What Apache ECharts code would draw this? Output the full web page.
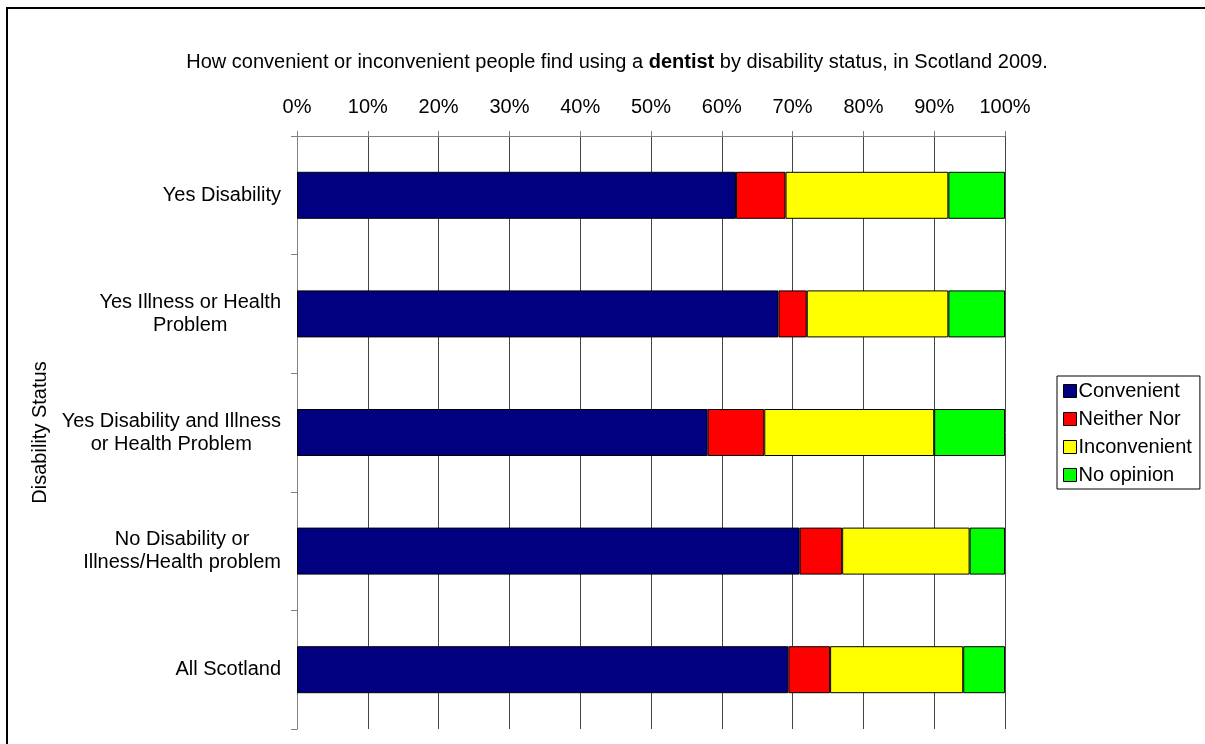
<!DOCTYPE html>
<html>
<head>
<meta charset="utf-8">
<script src="https://cdn.jsdelivr.net/npm/echarts@6/dist/echarts.min.js"></script>
<style>
html,body{margin:0;padding:0;background:#fff;}
#chart{width:1205px;height:744px;}
</style>
</head>
<body>
<div id="chart"></div>
<script>
var categories = [
  "Yes Disability",
  "Yes Illness or Health\nProblem",
  "Yes Disability and Illness\nor Health Problem",
  "No Disability or\nIllness/Health problem",
  "All Scotland"
];
var seriesNames = ["Convenient", "Neither Nor", "Inconvenient", "No opinion"];
var convenient   = [62, 68, 58, 71, 69.4];
var neitherNor   = [7, 4, 8, 6, 5.9];
var inconvenient = [23, 20, 24, 18, 18.8];
var noOpinion    = [8, 8, 10, 5, 5.9];
var colors = ["#000080", "#FF0000", "#FFFF00", "#00FF00"];
var xTicks = [0, 10, 20, 30, 40, 50, 60, 70, 80, 90, 100];

var values = [convenient, neitherNor, inconvenient, noOpinion];
var font = "Liberation Sans, Arial, sans-serif";

var chart = echarts.init(document.getElementById('chart'));
var option = {
  backgroundColor: '#fff',
  animation: false,
  textStyle: { fontFamily: font },
  title: {
    text: 'How convenient or inconvenient people find using a {b|dentist} by disability status, in Scotland 2009.',
    left: 612,
    textAlign: 'center',
    top: 47,
    textStyle: {
      fontSize: 20, fontWeight: 'normal', color: '#000', fontFamily: font,
      rich: { b: { fontSize: 20, fontWeight: 'bold', color: '#000', fontFamily: font } }
    }
  },
  graphic: [{
    type: 'rect',
    shape: { x: 7, y: 8, width: 1200, height: 740 },
    style: { fill: 'none', stroke: '#000', lineWidth: 2 },
    silent: true
  }],
  legend: {
    orient: 'vertical',
    left: 1057,
    top: 376,
    data: seriesNames,
    icon: 'rect',
    itemWidth: 13,
    itemHeight: 13,
    itemGap: 8,
    padding: [5, 8, 4, 6],
    borderColor: '#000',
    borderWidth: 1,
    textStyle: { fontSize: 20, color: '#000', fontFamily: font, padding: [0, 0, 0, -3] },
    itemStyle: { borderColor: '#000', borderWidth: 1 }
  },
  grid: { left: 297, top: 136, right: 200, bottom: 15, containLabel: false },
  xAxis: {
    type: 'value',
    position: 'top',
    min: 0, max: 100, interval: 10,
    axisLine: { show: true, lineStyle: { color: '#808080', width: 1 } },
    axisTick: { show: true, length: 5, lineStyle: { color: '#808080' } },
    axisLabel: {
      formatter: function (v) { return xTicks.indexOf(v) >= 0 ? v + '%' : ''; },
      fontSize: 20, color: '#000', fontFamily: font, margin: 19
    },
    splitLine: { show: true, lineStyle: { color: '#444', width: 1 } }
  },
  yAxis: {
    type: 'category',
    inverse: true,
    data: categories,
    name: 'Disability Status',
    nameLocation: 'middle',
    nameGap: 245,
    nameRotate: 90,
    nameTextStyle: { fontSize: 20, color: '#000', fontFamily: font },
    axisLine: { show: true, lineStyle: { color: '#808080', width: 1 } },
    axisTick: { show: true, length: 6, alignWithLabel: false, lineStyle: { color: '#808080' } },
    axisLabel: {
      fontSize: 20, color: '#000', fontFamily: font, margin: 16, align: 'right',
      formatter: function (v) {
        return v.split('\n').map(function (l) { return '{c|' + l + '}'; }).join('\n');
      },
      rich: { c: { align: 'center', fontSize: 20, lineHeight: 23, color: '#000', fontFamily: font } }
    },
    splitLine: { show: false }
  },
  series: seriesNames.map(function (name, i) {
    return {
      name: name,
      type: 'bar',
      stack: 'total',
      data: values[i],
      barWidth: 47,
      itemStyle: { color: colors[i], borderColor: '#000', borderWidth: 1 }
    };
  })
};
chart.setOption(option);
</script>
</body>
</html>
